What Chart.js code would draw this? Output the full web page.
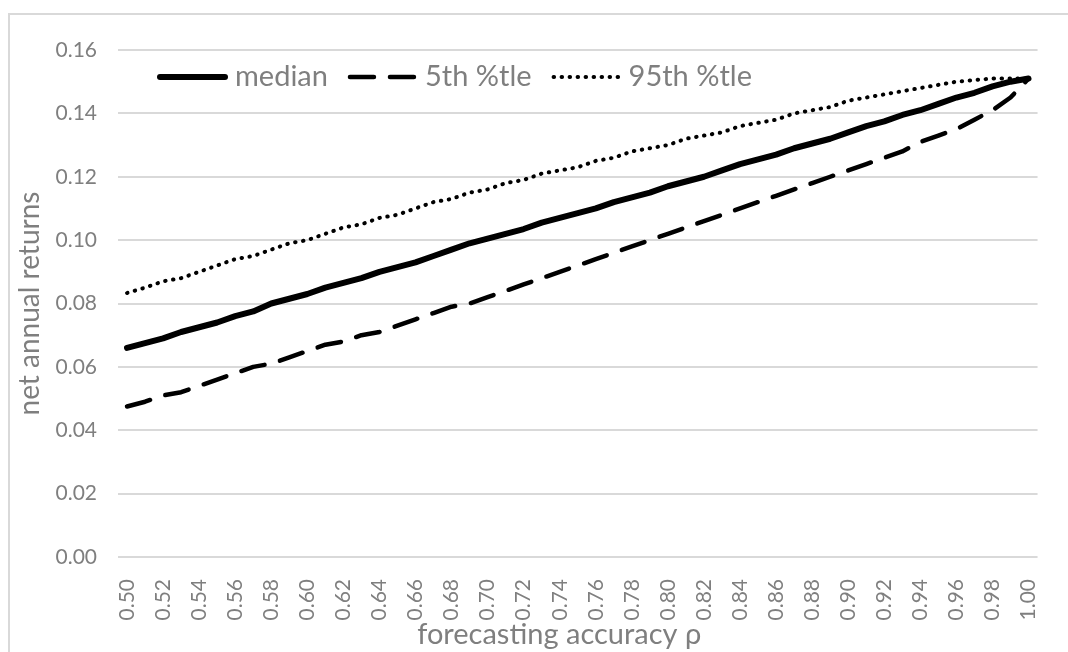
<!DOCTYPE html>
<html>
<head>
<meta charset="utf-8">
<script src="https://cdn.jsdelivr.net/npm/chart.js@4.4.1/dist/chart.umd.min.js"></script>
<style>
	html, body { margin: 0; padding: 0; background: #fff; overflow: hidden; }
	#frame { position: absolute; left: 8px; top: 13px; width: 1200px; height: 800px; border-left: 2px solid #d9d9d9; border-top: 2px solid #d9d9d9; }
	#chart { position: absolute; left: 0; top: 0; }
</style>
</head>
<body>
<div id="frame"></div>
<canvas id="chart" width="1068" height="652"></canvas>
<script>
// Forecasting accuracy (x categories)
const categories = [
	'0.50', '0.51', '0.52', '0.53', '0.54', '0.55', '0.56', '0.57', '0.58', '0.59',
	'0.60', '0.61', '0.62', '0.63', '0.64', '0.65', '0.66', '0.67', '0.68', '0.69',
	'0.70', '0.71', '0.72', '0.73', '0.74', '0.75', '0.76', '0.77', '0.78', '0.79',
	'0.80', '0.81', '0.82', '0.83', '0.84', '0.85', '0.86', '0.87', '0.88', '0.89',
	'0.90', '0.91', '0.92', '0.93', '0.94', '0.95', '0.96', '0.97', '0.98', '0.99',
	'1.00',
];

const median = [
	0.066, 0.0675, 0.069, 0.071, 0.0725, 0.074, 0.076, 0.0775, 0.080, 0.0815,
	0.083, 0.085, 0.0865, 0.088, 0.090, 0.0915, 0.093, 0.095, 0.097, 0.099,
	0.1005, 0.102, 0.1035, 0.1055, 0.107, 0.1085, 0.110, 0.112, 0.1135, 0.115,
	0.117, 0.1185, 0.120, 0.122, 0.124, 0.1255, 0.127, 0.129, 0.1305, 0.132,
	0.134, 0.136, 0.1375, 0.1395, 0.141, 0.143, 0.145, 0.1465, 0.1485, 0.150,
	0.151,
];

const p5 = [
	0.0475, 0.049, 0.051, 0.052, 0.054, 0.056, 0.058, 0.060, 0.061, 0.063,
	0.065, 0.067, 0.068, 0.070, 0.071, 0.073, 0.075, 0.077, 0.079, 0.080,
	0.082, 0.084, 0.086, 0.088, 0.090, 0.092, 0.094, 0.096, 0.098, 0.100,
	0.102, 0.104, 0.106, 0.108, 0.110, 0.112, 0.114, 0.116, 0.118, 0.120,
	0.122, 0.124, 0.126, 0.128, 0.131, 0.133, 0.135, 0.138, 0.141, 0.145,
	0.151,
];

const p95 = [
	0.0833, 0.085, 0.087, 0.088, 0.090, 0.092, 0.094, 0.095, 0.097, 0.099,
	0.100, 0.102, 0.104, 0.105, 0.107, 0.108, 0.110, 0.112, 0.113, 0.115,
	0.116, 0.118, 0.119, 0.121, 0.122, 0.123, 0.125, 0.126, 0.128, 0.129,
	0.130, 0.132, 0.133, 0.134, 0.136, 0.137, 0.138, 0.140, 0.141, 0.142,
	0.144, 0.145, 0.146, 0.147, 0.148, 0.149, 0.150, 0.1505, 0.151, 0.151,
	0.151,
];

const seriesLabels = [ 'median', '5th %tle', '95th %tle' ];

const FONT = 'Lato';
const GREY = '#7f7f7f';

// Legend drawn inside the plot area, in one row
const insideLegend = {
	id: 'insideLegend',
	afterDatasetsDraw( chart, args, opts ) {
		const { ctx, chartArea } = chart;
		let x = chartArea.left + opts.offsetX;
		const y = chartArea.top + opts.offsetY;
		ctx.save();
		ctx.font = `${ opts.fontSize }px ${ FONT }`;
		ctx.textBaseline = 'middle';
		chart.data.datasets.forEach( ( ds ) => {
			ctx.beginPath();
			ctx.setLineDash( ds.borderDash || [] );
			ctx.lineWidth = ds.borderWidth;
			ctx.lineCap = ds.borderCapStyle || 'butt';
			ctx.strokeStyle = ds.borderColor;
			ctx.moveTo( x + 3, y );
			ctx.lineTo( x + opts.sampleWidth - 3, y );
			ctx.stroke();
			ctx.setLineDash( [] );
			x += opts.sampleWidth + opts.textGap;
			ctx.fillStyle = GREY;
			ctx.fillText( ds.label, x, y );
			x += ctx.measureText( ds.label ).width + opts.itemGap;
		} );
		ctx.restore();
	},
};

new Chart( document.getElementById( 'chart' ), {
	type: 'line',
	data: {
		labels: categories,
		datasets: [
			{
				label: seriesLabels[0],
				data: median,
				borderColor: '#000',
				borderWidth: 6,
				borderCapStyle: 'round',
				borderJoinStyle: 'round',
			},
			{
				label: seriesLabels[1],
				data: p5,
				borderColor: '#000',
				borderWidth: 4.5,
				borderDash: [ 24, 16 ],
				borderCapStyle: 'round',
				borderJoinStyle: 'round',
			},
			{
				label: seriesLabels[2],
				data: p95,
				borderColor: '#000',
				borderWidth: 4,
				borderDash: [ 0.5, 7.5 ],
				borderCapStyle: 'round',
				borderJoinStyle: 'round',
			},
		],
	},
	plugins: [ insideLegend ],
	options: {
		responsive: false,
		animation: false,
		devicePixelRatio: 1,
		layout: {
			padding: { left: 0, top: 50, right: 26, bottom: 0 },
		},
		elements: {
			point: { radius: 0 },
			line: { tension: 0 },
		},
		plugins: {
			legend: { display: false },
			tooltip: { enabled: false },
			insideLegend: {
				offsetX: 39,
				offsetY: 27,
				sampleWidth: 71,
				textGap: 7,
				itemGap: 19,
				fontSize: 29,
			},
		},
		scales: {
			x: {
				offset: true,
				grid: { display: false },
				border: { display: false },
				ticks: {
					autoSkip: false,
					maxRotation: 90,
					minRotation: 90,
					padding: 14,
					color: GREY,
					font: { family: FONT, size: 21 },
					callback: ( v, i ) => ( i % 2 === 0 ? categories[ i ] : '' ),
				},
				title: {
					display: true,
					// trailing spaces nudge the centred title a little to the left
					text: 'forecasting accuracy ρ\u00a0\u00a0\u00a0\u00a0\u00a0',
					color: GREY,
					font: { family: FONT, size: 29 },
					padding: { top: 0, bottom: 0 },
				},
				afterFit: ( s ) => {
					s.height = 95;
				},
			},
			y: {
				min: 0,
				max: 0.16,
				grid: { color: '#d9d9d9', lineWidth: 2, drawTicks: false },
				border: { display: false },
				ticks: {
					stepSize: 0.02,
					padding: 21,
					color: GREY,
					font: { family: FONT, size: 21 },
					callback: ( v ) => v.toFixed( 2 ),
				},
				title: {
					display: true,
					text: 'net annual returns',
					color: GREY,
					font: { family: FONT, size: 28 },
					padding: { top: 13, bottom: 0 },
				},
				afterFit: ( s ) => {
					s.width = 118;
				},
			},
		},
	},
} );
</script>
</body>
</html>
